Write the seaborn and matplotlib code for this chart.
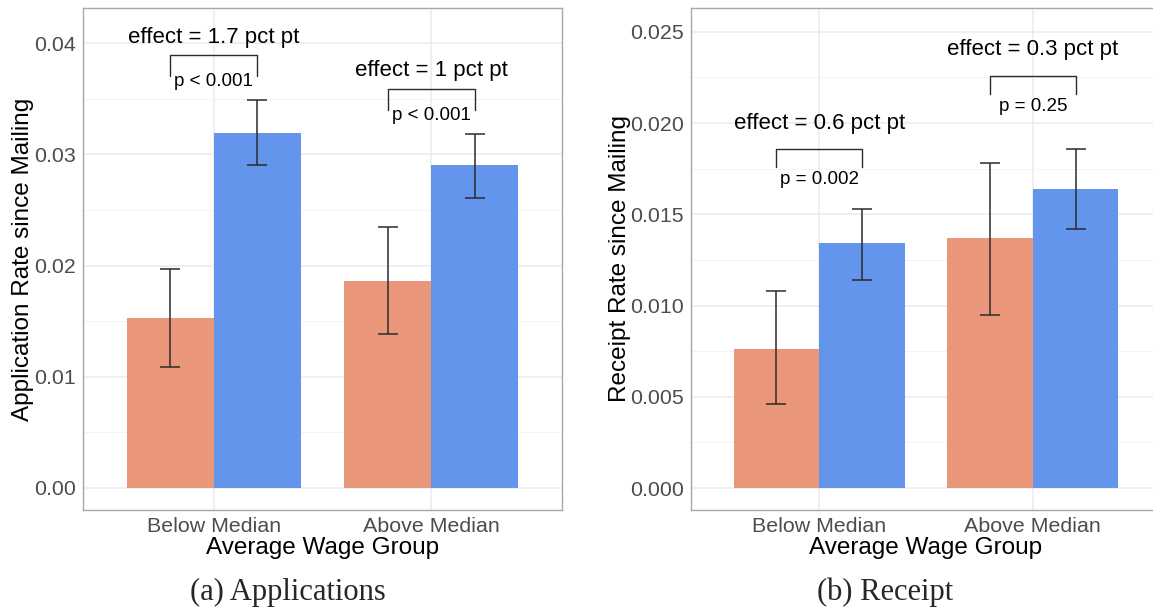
import numpy as np
import pandas as pd
import seaborn as sns
import matplotlib.pyplot as plt
from matplotlib.ticker import MultipleLocator, FormatStrFormatter

# data
groups = ["Below Median", "Above Median"]
arms = ["Control", "Treatment"]

app_control = [0.0153, 0.0186]
app_control_lo = [0.0109, 0.0138]
app_control_hi = [0.0197, 0.0235]
app_treat = [0.0319, 0.0290]
app_treat_lo = [0.0290, 0.0261]
app_treat_hi = [0.0349, 0.0318]

rec_control = [0.00764, 0.0137]
rec_control_lo = [0.0046, 0.0095]
rec_control_hi = [0.0108, 0.0178]
rec_treat = [0.0134, 0.0164]
rec_treat_lo = [0.0114, 0.0142]
rec_treat_hi = [0.0153, 0.0186]

app_effect = ["effect = 1.7 pct pt", "effect = 1 pct pt"]
app_p = ["p < 0.001", "p < 0.001"]
app_bracket = [0.0389, 0.0359]
rec_effect = ["effect = 0.6 pct pt", "effect = 0.3 pct pt"]
rec_p = ["p = 0.002", "p = 0.25"]
rec_bracket = [0.0186, 0.0226]

salmon = "#E9967A"
blue = "#6495ED"
border = "#A8A8A8"

sns.set_theme(style="whitegrid")
plt.rcParams['font.family'] = ['Liberation Sans', 'DejaVu Sans']

W, H = 1153, 613
fig = plt.figure(figsize=(W / 100, H / 100), dpi=100)
ax1 = fig.add_axes([83 / W, 1 - 510 / H, 479 / W, 502 / H])
ax2 = fig.add_axes([691 / W, 1 - 510 / H, 470 / W, 502 / H])


def panel(ax, ctrl, c_lo, c_hi, treat, t_lo, t_hi, effects, pvals, brackets,
          ylim, step, fmt, ylabel, drop, eff_off, p_off):
    df = pd.DataFrame({
        "group": groups * 2,
        "arm": [arms[0]] * 2 + [arms[1]] * 2,
        "rate": ctrl + treat,
    })
    sns.barplot(data=df, x="group", y="rate", hue="arm", order=groups,
                hue_order=arms, palette=[salmon, blue], saturation=1,
                width=0.8, gap=0, errorbar=None, legend=False, linewidth=0,
                ax=ax, zorder=2)

    centers = sorted(p.get_x() + p.get_width() / 2 for p in ax.patches)
    means = [ctrl[0], treat[0], ctrl[1], treat[1]]
    lows = [c_lo[0], t_lo[0], c_lo[1], t_lo[1]]
    highs = [c_hi[0], t_hi[0], c_hi[1], t_hi[1]]
    yerr = [np.subtract(means, lows), np.subtract(highs, means)]
    ax.errorbar(centers, means, yerr=yerr, fmt="none", ecolor="#2b2b2b",
                elinewidth=1.1, capsize=7.2, capthick=1.1, zorder=3)

    for i, g in enumerate(groups):
        xl, xr = centers[2 * i], centers[2 * i + 1]
        top = brackets[i]
        ax.plot([xl, xl, xr, xr], [top - drop, top, top, top - drop],
                color="#2b2b2b", lw=1.0, zorder=3)
        ax.text(i, top + eff_off, effects[i], ha="center", va="center",
                fontsize=16, color="black")
        ax.text(i, top + p_off, pvals[i], ha="center", va="center",
                fontsize=13.5, color="black")

    ax.set_xlim(-0.6, 1.6)
    ax.set_ylim(*ylim)
    ax.yaxis.set_major_locator(MultipleLocator(step))
    ax.yaxis.set_minor_locator(MultipleLocator(step / 2))
    ax.yaxis.set_major_formatter(FormatStrFormatter(fmt))
    ax.set_axisbelow(True)
    ax.grid(which="major", color="#EBEBEB", lw=1.1)
    ax.grid(which="minor", axis="y", color="#F3F3F3", lw=0.7)
    for s in ax.spines.values():
        s.set_visible(True)
        s.set_color(border)
        s.set_linewidth(1.0)
    ax.tick_params(which="major", length=3.6, width=0.8, color=border,
                   labelcolor="#4D4D4D", labelsize=15.4, pad=1.5)
    ax.tick_params(which="minor", length=0)
    ax.set_xlabel("Average Wage Group", fontsize=17.5, color="black", labelpad=1)
    ax.set_ylabel(ylabel, fontsize=17.5, color="black")


panel(ax1, app_control, app_control_lo, app_control_hi,
      app_treat, app_treat_lo, app_treat_hi,
      app_effect, app_p, app_bracket,
      (-0.00198, 0.04315), 0.01, "%.2f", "Application Rate since Mailing",
      0.0019, 0.0016, -0.0024)
panel(ax2, rec_control, rec_control_lo, rec_control_hi,
      rec_treat, rec_treat_lo, rec_treat_hi,
      rec_effect, rec_p, rec_bracket,
      (-0.0012, 0.0263), 0.005, "%.3f", "Receipt Rate since Mailing",
      0.0010, 0.0014, -0.0017)

ax1.yaxis.set_label_coords(-0.102, 0.5)
ax2.yaxis.set_label_coords(-0.128, 0.5)

fig.text(288 / W, 1 - 592 / H, "(a) Applications", ha="center", va="center",
         fontsize=22, family=["Liberation Serif", "DejaVu Serif"])
fig.text(885 / W, 1 - 592 / H, "(b) Receipt", ha="center", va="center",
         fontsize=22, family=["Liberation Serif", "DejaVu Serif"])

fig.savefig("out.png", dpi=100)
